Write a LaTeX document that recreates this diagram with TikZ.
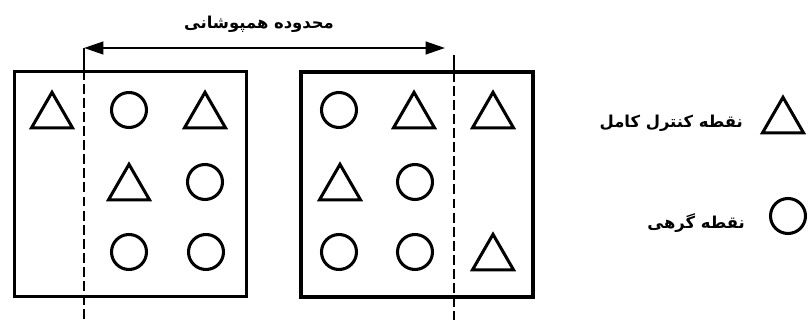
\documentclass[tikz,border=0pt]{standalone}
\usepackage{fontspec}
\newfontfamily\fafont[Script=Arabic]{DejaVu Sans}
\TeXXeTstate=1
\usetikzlibrary{shapes.geometric, arrows.meta, positioning}

\begin{document}
\begin{tikzpicture}[
    x=0.03cm, y=-0.03cm,
    tile/.style={rectangle, draw=black, line width=3.3pt, minimum width=6.96cm, minimum height=6.75cm, inner sep=0pt},
    fullpt/.style={regular polygon, regular polygon sides=3, draw=black, line width=2.6pt, minimum size=1.42cm, inner sep=0pt},
    tiept/.style={circle, draw=black, line width=2.6pt, minimum size=1.05cm, inner sep=0pt},
    edge/.style={line width=1.5pt},
    cut/.style={line width=1.5pt, dash pattern=on 8.5pt off 3.5pt},
    span/.style={line width=1.8pt, {Triangle[length=5.8mm,width=3.8mm]}-{Triangle[length=5.8mm,width=3.8mm]}},
    fatext/.style={font=\fafont\bfseries\fontsize{14}{16}\selectfont, inner sep=0pt}
]
\useasboundingbox (0,0) rectangle (809,320);

% Overlap limits
\coordinate (ltop) at (84,48);
\coordinate (lin) at (84,70);
\coordinate (lbot) at (84,320);
\coordinate (rhead) at (445,48);
\coordinate (rtop) at (454,55);
\coordinate (rin) at (454,72);
\coordinate (rbot) at (454,320);

\draw[edge] (ltop) -- (lin);
\draw[cut] (lin) -- (lbot);
\draw[edge] (rtop) -- (rin);
\draw[cut] (rin) -- (rbot);
\draw[span] (ltop) -- (rhead);
\node[fatext] (overlap) at (259,24) {\beginR محدوده همپوشانی\endR};

% Tiles
\node[tile] (lefttile) at (130.5,184) {};
\node[tile] (righttile) at (417,184.5) {};

% Left tile points
\node[fullpt] (la1) at (52,116) {};
\node[tiept] (la2) at (129,110) {};
\node[fullpt] (la3) at (205,116) {};
\node[fullpt] (lb2) at (129,188) {};
\node[tiept] (lb3) at (205,182) {};
\node[tiept] (lc2) at (129,252) {};
\node[tiept] (lc3) at (206,252) {};

% Right tile points
\node[tiept] (ra1) at (339,110) {};
\node[fullpt] (ra2) at (414,116) {};
\node[fullpt] (ra3) at (493,116) {};
\node[fullpt] (rb1) at (340,188) {};
\node[tiept] (rb2) at (415,182) {};
\node[tiept] (rc1) at (339,252) {};
\node[tiept] (rc2) at (415,252) {};
\node[fullpt] (rc3) at (493,258) {};

% Legend
\node[fullpt] (keyfull) at (783,121) {};
\node[fatext, anchor=east] (keyfulltext) at (743,123) {\beginR نقطه کنترل کامل\endR};
\node[tiept] (keytie) at (788,216) {};
\node[fatext, anchor=east] (keytietext) at (745,223) {\beginR نقطه گرهی\endR};

\end{tikzpicture}
\end{document}
